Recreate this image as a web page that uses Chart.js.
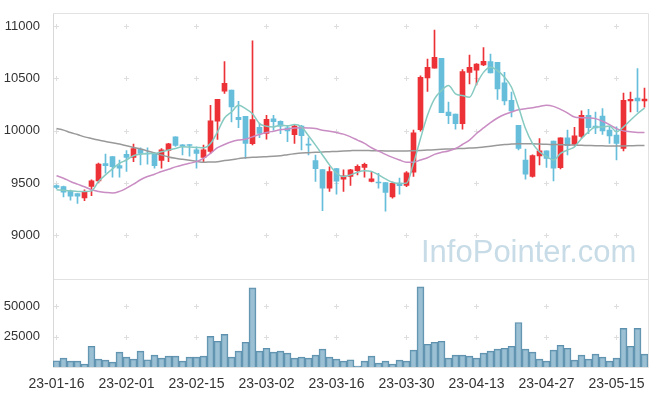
<!DOCTYPE html>
<html><head><meta charset="utf-8">
<script src="https://cdn.jsdelivr.net/npm/chart.js@4"></script>
<style>
html,body{margin:0;padding:0;background:#fff;}
#wrap{position:relative;width:657px;height:396px;}
#wm{position:absolute;left:421px;top:236px;font-family:"Liberation Sans",Arial,sans-serif;font-size:31px;color:#c8dce7;white-space:nowrap;line-height:1;pointer-events:none;}
</style></head><body>
<div id="wrap"><canvas id="c" width="657" height="396"></canvas><div id="wm">InfoPointer.com</div></div>
<script>
const dates = [
'23-01-16','23-01-17','23-01-18','23-01-19','23-01-20','23-01-25','23-01-26','23-01-27','23-01-30','23-01-31',
'23-02-01','23-02-02','23-02-03','23-02-06','23-02-07','23-02-08','23-02-09','23-02-10','23-02-13','23-02-14',
'23-02-15','23-02-16','23-02-17','23-02-20','23-02-21','23-02-22','23-02-23','23-02-24','23-02-27','23-02-28',
'23-03-02','23-03-03','23-03-06','23-03-07','23-03-08','23-03-09','23-03-10','23-03-13','23-03-14','23-03-15',
'23-03-16','23-03-17','23-03-20','23-03-21','23-03-22','23-03-23','23-03-24','23-03-27','23-03-28','23-03-29',
'23-03-30','23-03-31','23-04-03','23-04-04','23-04-05','23-04-06','23-04-07','23-04-10','23-04-11','23-04-12',
'23-04-13','23-04-14','23-04-17','23-04-18','23-04-19','23-04-20','23-04-21','23-04-24','23-04-25','23-04-26',
'23-04-27','23-04-28','23-05-02','23-05-03','23-05-04','23-05-08','23-05-09','23-05-10','23-05-11','23-05-12',
'23-05-15','23-05-16','23-05-17','23-05-18','23-05-19'];
const xTickLabels = ['23-01-16','23-02-01','23-02-15','23-03-02','23-03-16','23-03-30','23-04-13','23-04-27','23-05-15'];
const priceTicks = [9000,9500,10000,10500,11000];
const volumeTicks = [25000,50000];

const open = [9475,9465,9420,9398,9357,9467,9521,9685,9752,9666,
9774,9745,9825,9787,9783,9717,9811,9941,9865,9862,
9818,9745,9802,10090,10377,10387,10128,10137,9875,10033,
9973,10112,10090,10026,9963,10045,9868,9714,9628,9451,
9638,9537,9562,9619,9650,9515,9505,9503,9366,9499,
9477,9603,10010,10503,10598,10690,10178,10159,10067,10557,
10579,10627,10659,10652,10456,10290,10052,9720,9562,9758,
9808,9900,9647,9931,9868,9944,10147,10043,10140,10005,
9957,9830,10285,10311,10285];
const high = [9483,9470,9432,9400,9436,9531,9690,9777,9752,9720,
9811,9872,9835,9837,9790,9830,9880,9941,9868,9867,
9846,9862,10242,10299,10659,10387,10280,10137,10858,10067,
10147,10147,10095,10052,10058,10050,9932,9768,9628,9655,
9640,9626,9630,9673,9690,9610,9593,9505,9510,9546,
9610,10005,10525,10683,10962,10690,10273,10159,10583,10721,
10640,10794,10731,10652,10557,10368,10052,9825,9770,9925,
9808,9900,9931,10005,10031,10190,10204,10178,10210,10036,
10036,10358,10368,10592,10406];
const low = [9445,9366,9335,9306,9332,9379,9500,9593,9555,9555,
9610,9704,9673,9679,9641,9641,9704,9850,9768,9757,
9641,9696,9783,9916,10355,10083,10029,9736,9865,9932,
9919,10005,9972,9894,9878,9815,9768,9515,9237,9420,
9394,9420,9477,9578,9555,9510,9451,9230,9355,9394,
9465,9562,9995,10374,10598,10172,10067,10014,10014,10446,
10437,10620,10551,10299,10247,10131,9815,9536,9555,9673,
9650,9521,9635,9768,9860,9925,9972,9972,9965,9878,
9720,9806,10178,10178,10225];
const close = [9458,9413,9375,9375,9417,9521,9682,9666,9657,9641,
9745,9830,9783,9777,9666,9818,9875,9859,9853,9858,
9783,9818,10093,10299,10453,10228,10105,9878,10105,9973,
10109,10086,10043,9998,10045,9953,9862,9638,9451,9609,
9518,9569,9626,9660,9679,9541,9500,9410,9496,9474,
9597,9979,10510,10605,10700,10172,10143,10067,10564,10605,
10636,10662,10551,10399,10285,10188,9830,9584,9761,9808,
9735,9641,9931,9856,9951,10147,10029,10026,9998,9951,
9878,10290,10299,10285,10301];
const volume = [5170,7340,4900,4900,2450,17130,6530,5710,4080,12240,
8160,6530,13050,5980,9790,7340,8970,8970,4900,8160,
8160,8970,25290,21210,26920,8160,13050,20390,65260,13050,
15500,12240,13050,11420,7340,8160,7340,9790,14680,8160,
6530,4900,5980,816,4900,8970,3260,4900,2450,5710,
4900,13870,66070,18760,20390,21210,7340,9790,9790,8970,
7340,11420,13050,14680,15500,17130,36700,14680,12240,6530,
4900,13870,17950,15500,5710,9790,6530,10600,8160,4900,
7340,31810,17130,31810,10600];
const ma5 = [9436,9430,9425,9420,9420,9425,9515,9578,9635,9688,
9720,9761,9774,9783,9783,9799,9815,9830,9846,9843,
9840,9837,9878,9989,10121,10178,10242,10210,10162,10067,
10043,10036,10052,10045,10058,10036,9951,9862,9768,9673,
9593,9562,9578,9603,9616,9610,9578,9540,9508,9496,
9499,9688,9925,10147,10304,10384,10431,10352,10336,10320,
10446,10557,10605,10573,10510,10415,10226,10020,9878,9799,
9752,9720,9783,9815,9846,9925,9989,10036,10036,10045,
9989,10036,10100,10162,10216];
const ma20 = [9569,9546,9515,9489,9464,9436,9420,9410,9404,9420,
9451,9489,9531,9562,9584,9610,9631,9654,9673,9688,
9704,9736,9783,9837,9868,9894,9910,9919,9941,9963,
9982,9995,10008,10017,10026,10029,10026,10020,10005,9995,
9982,9967,9941,9910,9878,9837,9806,9774,9745,9720,
9698,9698,9720,9742,9774,9793,9806,9830,9868,9910,
9973,10026,10077,10121,10155,10178,10200,10210,10219,10232,
10242,10232,10204,10169,10131,10124,10121,10115,10090,10058,
10020,9998,9989,9982,9982];
const ma60 = [10020,10005,9982,9963,9941,9925,9910,9897,9884,9872,
9856,9840,9825,9806,9787,9768,9749,9736,9726,9717,
9707,9698,9701,9704,9714,9723,9733,9742,9745,9749,
9752,9755,9761,9771,9780,9787,9790,9793,9796,9799,
9802,9806,9809,9811,9811,9809,9808,9806,9806,9806,
9806,9808,9811,9815,9818,9822,9825,9828,9830,9834,
9837,9844,9852,9860,9868,9872,9875,9875,9874,9872,
9870,9868,9866,9864,9862,9860,9858,9856,9855,9854,
9853,9854,9856,9858,9859];

const RED = '#ec3137', BLUE = '#66bedb';
const candleColor = close.map((c, i) => c >= open[i] ? RED : BLUE);
const FONT = '"Liberation Sans", Arial, sans-serif';

const framePlugin = {
  id: 'frame',
  beforeDatasetsDraw(chart) {
    const {ctx, chartArea: a, scales} = chart;
    const x = scales.x, y = scales.y, yv = scales.yv;
    ctx.save();
    ctx.lineWidth = 1;
    ctx.strokeStyle = '#dedede';
    const xs = dates.map((d, i) => xTickLabels.includes(d) ? x.getPixelForValue(i) : null).filter(v => v !== null);
    const cross = (px, py) => {
      const cx = Math.floor(px) + 0.5, cy = Math.round(py) + 0.5;
      ctx.beginPath();
      ctx.moveTo(cx - 2.5, cy); ctx.lineTo(cx + 2.5, cy);
      ctx.moveTo(cx, cy - 2.5); ctx.lineTo(cx, cy + 2.5);
      ctx.stroke();
    };
    xs.forEach(px => {
      priceTicks.forEach(v => cross(px, y.getPixelForValue(v)));
      volumeTicks.forEach(v => cross(px, yv.getPixelForValue(v)));
    });
    ctx.strokeStyle = '#e2e2e2';
    const L = Math.round(a.left) + 0.5, R = Math.round(a.right) + 0.5;
    const T = Math.round(y.top) + 0.5, D = Math.round(y.bottom) + 0.5, B = Math.round(yv.bottom) + 0.5;
    ctx.beginPath();
    ctx.moveTo(L, T); ctx.lineTo(R, T);
    ctx.moveTo(L, D); ctx.lineTo(R, D);
    ctx.moveTo(L, B); ctx.lineTo(R, B);
    ctx.moveTo(R, T); ctx.lineTo(R, B);
    ctx.stroke();
    ctx.strokeStyle = '#d8d8d8';
    ctx.beginPath(); ctx.moveTo(L, T); ctx.lineTo(L, B); ctx.stroke();
    ctx.restore();
  }
};

new Chart(document.getElementById('c'), {
  type: 'bar',
  data: {
    labels: dates,
    datasets: [
      {type: 'line', label: 'MA5', data: ma5, yAxisID: 'y', borderColor: '#86cac1', borderWidth: 1.5, pointRadius: 0, cubicInterpolationMode: 'monotone', order: 0},
      {type: 'line', label: 'MA20', data: ma20, yAxisID: 'y', borderColor: '#c98cc3', borderWidth: 1.5, pointRadius: 0, cubicInterpolationMode: 'monotone', order: 0},
      {type: 'line', label: 'MA60', data: ma60, yAxisID: 'y', borderColor: '#999999', borderWidth: 1.5, pointRadius: 0, cubicInterpolationMode: 'monotone', order: 0},
      {label: 'body', data: open.map((o, i) => [o, close[i]]), yAxisID: 'y', backgroundColor: candleColor, barThickness: 5, minBarLength: 1, grouped: false, order: 1},
      {label: 'wick', data: low.map((l, i) => [l, high[i]]), yAxisID: 'y', backgroundColor: candleColor, barThickness: 1, grouped: false, order: 2},
      {label: 'volume', data: volume, yAxisID: 'yv', backgroundColor: 'rgba(122,171,197,0.75)', borderColor: 'rgba(84,138,168,0.95)', borderWidth: 1, barPercentage: 1, categoryPercentage: 1, grouped: false, order: 3}
    ]
  },
  options: {
    responsive: false,
    animation: false,
    layout: {padding: {top: 10, right: 9, left: 0, bottom: 0}},
    plugins: {legend: {display: false}, tooltip: {enabled: false}},
    scales: {
      x: {
        type: 'category', offset: true,
        grid: {display: false}, border: {display: false},
        ticks: {autoSkip: false, maxRotation: 0, minRotation: 0, padding: 1, color: '#333', font: {family: FONT, size: 14},
          callback: (v, i) => xTickLabels.includes(dates[i]) ? dates[i] : ''},
        afterFit: s => { s.height = 29; }
      },
      yv: {
        position: 'left', stack: 'main', stackWeight: 89, min: 0, max: 72840,
        grid: {display: false}, border: {display: false},
        ticks: {padding: 5, color: '#333', font: {family: FONT, size: 13}, callback: v => String(v)},
        afterBuildTicks: s => { s.ticks = volumeTicks.map(v => ({value: v})); },
        afterFit: s => { s.width = 53; }
      },
      y: {
        position: 'left', stack: 'main', stackWeight: 268, min: 8586, max: 11126,
        grid: {display: false}, border: {display: false},
        ticks: {padding: 5, color: '#333', font: {family: FONT, size: 13}, callback: v => String(v)},
        afterBuildTicks: s => { s.ticks = priceTicks.map(v => ({value: v})); },
        afterFit: s => { s.width = 53; }
      }
    }
  },
  plugins: [framePlugin]
});
</script>
</body></html>
